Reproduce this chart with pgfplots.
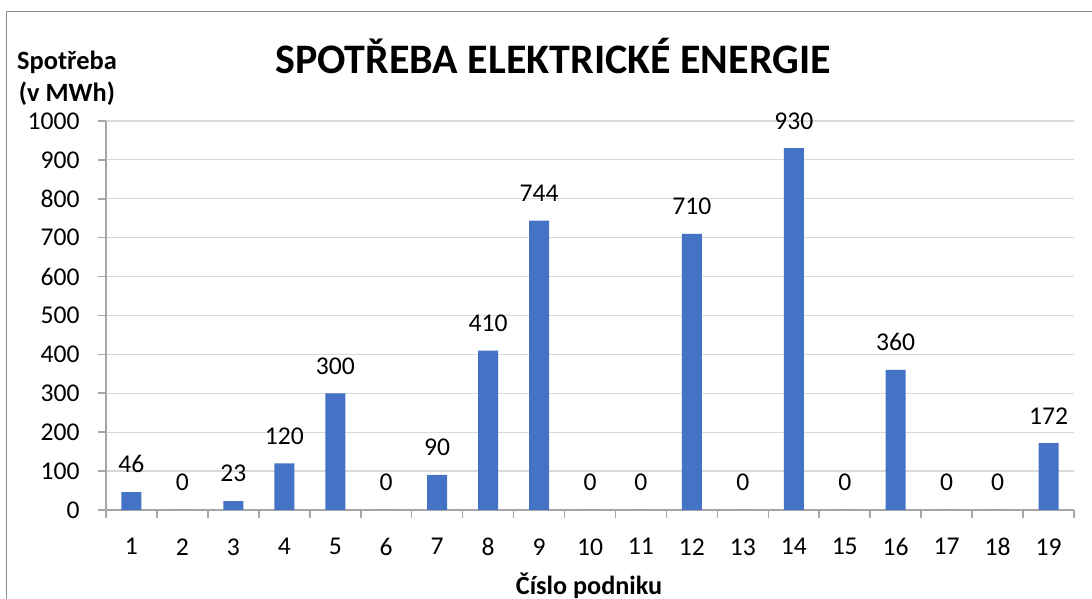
\documentclass[border=0pt]{standalone}
\usepackage{pgfplots}
\pgfplotsset{compat=1.18}
\usepackage{fontspec}
\setmainfont{Carlito}
\definecolor{barblue}{HTML}{4472C4}
\definecolor{gridgray}{HTML}{D9D9D9}
\definecolor{axisgray}{HTML}{A6A6A6}
\definecolor{framegray}{HTML}{8C8C8C}
\begin{document}
\begin{tikzpicture}
\useasboundingbox (-53pt,-44.5pt) rectangle (493pt,255pt);
\draw[framegray, line width=0.8pt] (-49.65pt,-50pt) -- (-49.65pt,249.15pt) -- (500pt,249.15pt);
\begin{axis}[
  at={(0,0)}, anchor=south west,
  scale only axis,
  width=484pt, height=194.5pt,
  xmin=0.5, xmax=19.5, ymin=0, ymax=1000,
  axis lines*=left,
  axis line style={axisgray, line width=0.8pt},
  xtick={0.5,1.5,...,19.5},
  xticklabels={1,2,3,4,5,6,7,8,9,10,11,12,13,14,15,16,17,18,19},
  x tick label as interval,
  ytick={0,100,...,1000},
  tick align=outside,
  major tick length=4pt,
  tick style={axisgray, line width=0.8pt},
  ymajorgrids,
  grid style={gridgray, line width=0.6pt},
  /pgf/number format/assume math mode=true,
  ticklabel style={font=\fontsize{12.8pt}{14pt}\selectfont, text=black},
  y tick label style={anchor=east, inner sep=0pt, xshift=-9pt},
  x tick label style={anchor=north, inner sep=0pt, yshift=-10pt},
  /pgf/number format/1000 sep={},
  ybar, bar width=10pt,
  nodes near coords,
  every node near coord/.append style={font=\fontsize{12.8pt}{14pt}\selectfont, inner sep=0pt, yshift=9.3pt, text=black},
  clip=false,
]
\addplot[fill=barblue, draw=none] coordinates {
(1,46) (2,0) (3,23) (4,120) (5,300) (6,0) (7,90) (8,410) (9,744) (10,0)
(11,0) (12,710) (13,0) (14,930) (15,0) (16,360) (17,0) (18,0) (19,172)
};
\end{axis}
\node[anchor=base, font=\bfseries\fontsize{21pt}{24pt}\selectfont] at (223.5pt,218pt) {SPOTŘEBA ELEKTRICKÉ ENERGIE};
\node[anchor=base, font=\bfseries\fontsize{13.2pt}{16pt}\selectfont, align=center, inner sep=0pt] at (-19.5pt,204pt) {Spotřeba\\(v MWh)};
\node[anchor=base, font=\bfseries\fontsize{13.1pt}{16pt}\selectfont, inner sep=0pt] at (241.5pt,-42.5pt) {Číslo podniku};
\end{tikzpicture}
\end{document}
